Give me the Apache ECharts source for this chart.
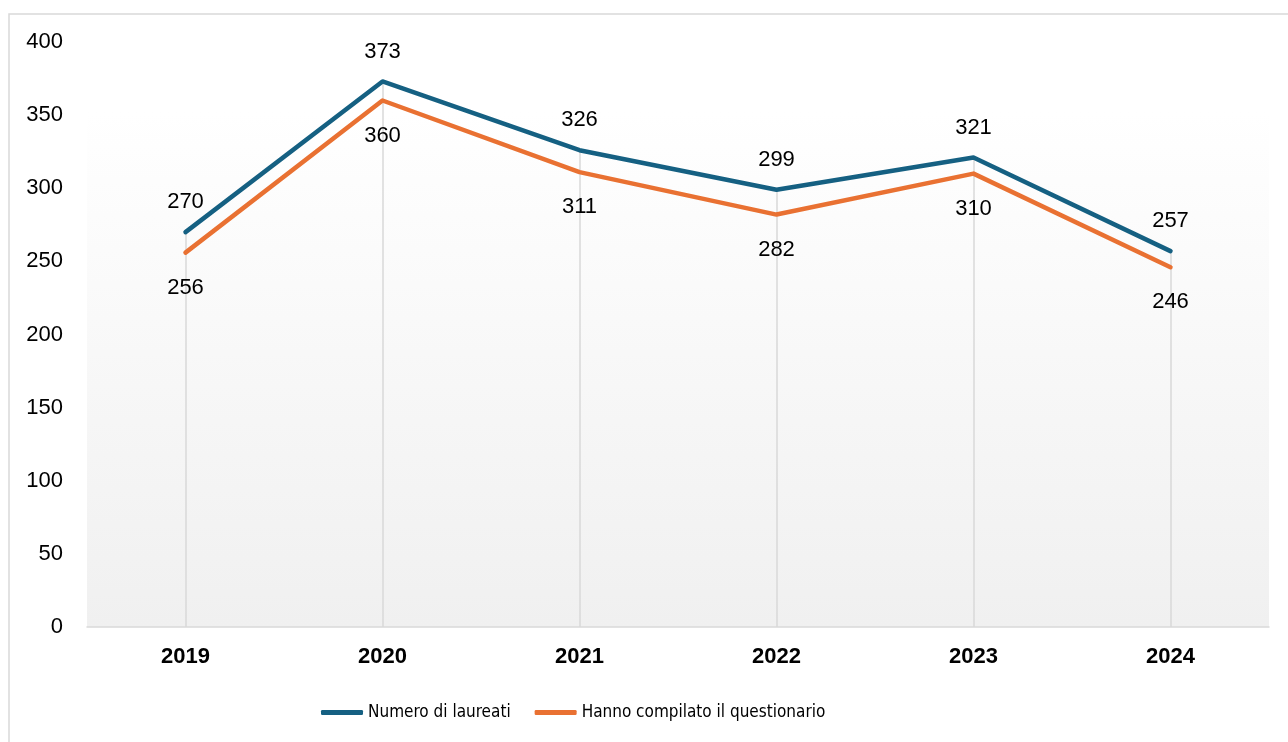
<!DOCTYPE html>
<html>
<head>
<meta charset="utf-8">
<script src="https://cdn.jsdelivr.net/npm/echarts@6/dist/echarts.min.js"></script>
<style>
html,body{margin:0;padding:0;background:#fff;}
#chart{width:1288px;height:742px;}
</style>
</head>
<body>
<div id="chart"></div>
<script>
const categories = ['2019','2020','2021','2022','2023','2024'];
const laureati = [270, 373, 326, 299, 321, 257];
const compilato = [256, 360, 311, 282, 310, 246];
const yTicks = { min: 0, max: 400, interval: 50 };
const seriesNames = ['Numero di laureati', 'Hanno compilato il questionario'];

const chart = echarts.init(document.getElementById('chart'));
const baseFont = 'Liberation Sans, Arial, sans-serif';

const dropLines = categories.map((c, i) => [
  { coord: [c, Math.max(laureati[i], compilato[i])] },
  { coord: [c, 0] }
]);

chart.setOption({
  animation: false,
  backgroundColor: '#ffffff',
  graphic: [{
    type: 'rect',
    shape: { x: 9, y: 14, width: 1400, height: 900 },
    style: { fill: 'none', stroke: '#d9d9d9', lineWidth: 1.5 },
    silent: true,
    z: 100
  }],
  grid: {
    left: 87, right: 19, top: 42, bottom: 115,
    show: true,
    borderWidth: 0,
    backgroundColor: {
      type: 'linear', x: 0, y: 0, x2: 0, y2: 1,
      colorStops: [
        { offset: 0, color: '#ffffff' },
        { offset: 0.12, color: '#ffffff' },
        { offset: 1, color: '#f0f0f0' }
      ]
    }
  },
  legend: {
    left: 316, top: 699,
    itemWidth: 42, itemHeight: 5, itemGap: 24,
    icon: 'roundRect',
    textStyle: { fontFamily: 'DejaVu Sans', fontStyle: 'condensed', fontSize: 17, color: '#000' },
    data: seriesNames
  },
  xAxis: {
    type: 'category',
    data: categories,
    boundaryGap: true,
    axisLine: { show: true, lineStyle: { color: '#d9d9d9', width: 1.5 } },
    axisTick: { show: false },
    splitLine: { show: false },
    axisLabel: { fontFamily: baseFont, fontSize: 22, fontWeight: 'bold', color: '#000', margin: 19 }
  },
  yAxis: {
    type: 'value',
    min: yTicks.min, max: yTicks.max, interval: yTicks.interval,
    axisLine: { show: false },
    axisTick: { show: false },
    splitLine: { show: false },
    axisLabel: { fontFamily: baseFont, fontSize: 22, color: '#000', margin: 24 }
  },
  series: [
    {
      name: seriesNames[0],
      type: 'line',
      data: laureati,
      color: '#156082',
      symbol: 'circle', symbolSize: 0, showSymbol: true,
      lineStyle: { width: 4.5, color: '#156082', cap: 'round', join: 'round' },
      label: { show: true, position: 'top', distance: 19, fontFamily: baseFont, fontSize: 22, color: '#000' },
      z: 3,
      markLine: {
        silent: true,
        symbol: ['none', 'none'],
        label: { show: false },
        lineStyle: { color: '#d9d9d9', width: 1.5, type: 'solid' },
        data: dropLines,
        z: 1
      }
    },
    {
      name: seriesNames[1],
      type: 'line',
      data: compilato,
      color: '#E97132',
      symbol: 'circle', symbolSize: 0, showSymbol: true,
      lineStyle: { width: 4.5, color: '#E97132', cap: 'round', join: 'round' },
      label: { show: true, position: 'bottom', distance: 24, fontFamily: baseFont, fontSize: 22, color: '#000' },
      z: 3
    }
  ]
});
</script>
</body>
</html>
